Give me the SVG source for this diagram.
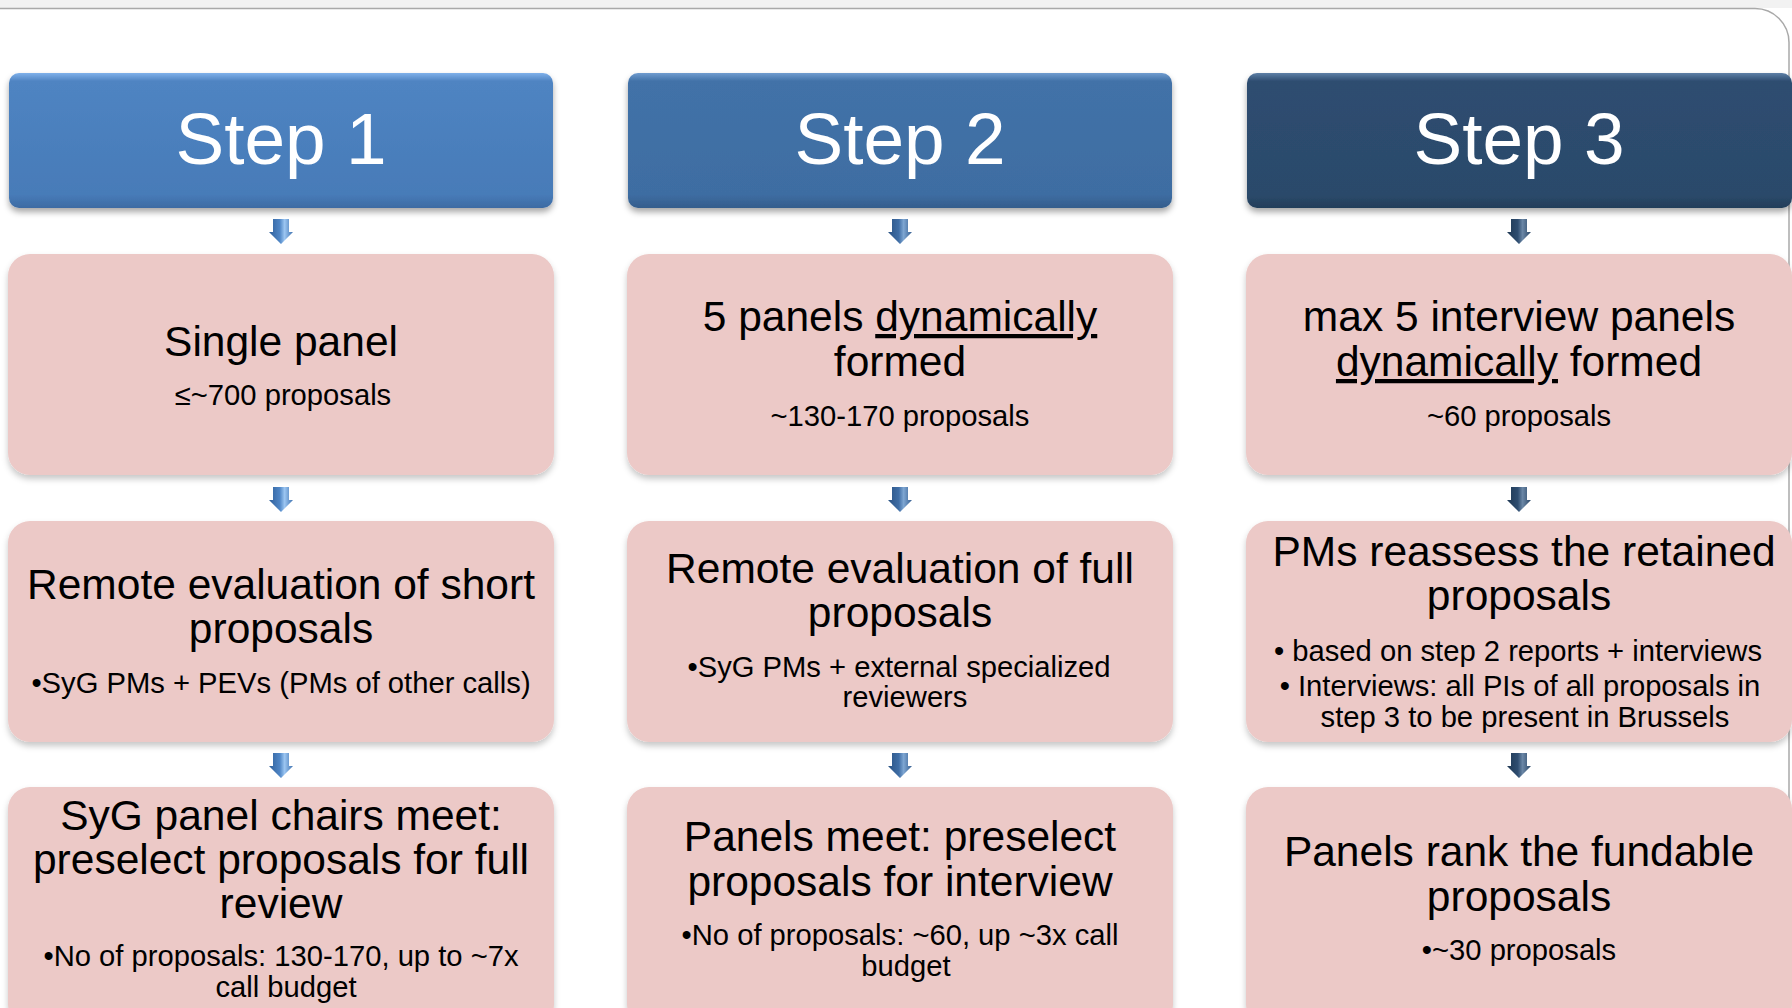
<svg xmlns="http://www.w3.org/2000/svg" width="1792" height="1008" viewBox="0 0 1792 1008">
<defs>
<linearGradient id="g1" x1="0" y1="0" x2="0" y2="1">
<stop offset="0" stop-color="#7fb0ea"/><stop offset="0.06" stop-color="#4f84c2"/><stop offset="0.9" stop-color="#477bb8"/><stop offset="1" stop-color="#3d6ba3"/>
</linearGradient>
<linearGradient id="g2" x1="0" y1="0" x2="0" y2="1">
<stop offset="0" stop-color="#6f9ccf"/><stop offset="0.06" stop-color="#4272a8"/><stop offset="0.9" stop-color="#3e6da2"/><stop offset="1" stop-color="#345d8c"/>
</linearGradient>
<linearGradient id="g3" x1="0" y1="0" x2="0" y2="1">
<stop offset="0" stop-color="#5d7fa6"/><stop offset="0.06" stop-color="#2e4d70"/><stop offset="0.9" stop-color="#2b4a6b"/><stop offset="1" stop-color="#233e5a"/>
</linearGradient>
<linearGradient id="ga1" x1="0" y1="0" x2="1" y2="0">
<stop offset="0" stop-color="#2f5f9a"/><stop offset="0.45" stop-color="#4f86c6"/><stop offset="0.65" stop-color="#9cc6f2"/><stop offset="1" stop-color="#3f72b0"/>
</linearGradient>
<linearGradient id="ga2" x1="0" y1="0" x2="1" y2="0">
<stop offset="0" stop-color="#2a5283"/><stop offset="0.45" stop-color="#3f6ea6"/><stop offset="0.65" stop-color="#7ea6d2"/><stop offset="1" stop-color="#365f91"/>
</linearGradient>
<linearGradient id="ga3" x1="0" y1="0" x2="1" y2="0">
<stop offset="0" stop-color="#1f3853"/><stop offset="0.45" stop-color="#2e4d70"/><stop offset="0.65" stop-color="#6b87a6"/><stop offset="1" stop-color="#2a4666"/>
</linearGradient>
<filter id="sh" x="-5%" y="-10%" width="110%" height="130%">
<feDropShadow dx="0" dy="4" stdDeviation="3" flood-color="#000" flood-opacity="0.35"/>
</filter>
<filter id="shp" x="-5%" y="-10%" width="110%" height="130%">
<feDropShadow dx="0" dy="4" stdDeviation="3" flood-color="#000" flood-opacity="0.22"/>
</filter>
<path id="arw" d="M-8,0 H8 V13 H12 L0,25 L-12,13 H-8 Z"/>
</defs>
<style>
.hdr{filter:url(#sh);}
.pk{fill:#ecc9c7;filter:url(#shp);}
.st,.mn,.sb{font-family:"Liberation Sans",Arial,sans-serif;text-anchor:middle;}
.st{font-size:73px;fill:#fff;}
.mn{font-size:42.5px;fill:#000;}
.sb{font-size:29.2px;fill:#000;}
.u{text-decoration:underline;}
</style>
<rect x="0" y="0" width="1792" height="8" fill="#f2f2f2"/>
<path d="M0,8.5 H1755 A34,34 0 0 1 1789,42.5 V1008" fill="none" stroke="#a9a9a9" stroke-width="1.5"/>

<g id="step1">
<rect class="hdr" x="9" y="73" width="544" height="135" rx="10" fill="url(#g1)"/>
<text class="st" x="281" y="164">Step 1</text>
</g>
<g id="step2">
<rect class="hdr" x="628" y="73" width="544" height="135" rx="10" fill="url(#g2)"/>
<text class="st" x="900" y="164">Step 2</text>
</g>
<g id="step3">
<rect class="hdr" x="1247" y="73" width="545" height="135" rx="10" fill="url(#g3)"/>
<text class="st" x="1519" y="164">Step 3</text>
</g>

<g id="c1r1">
<rect class="pk" x="8" y="254" width="546" height="221" rx="22"/>
<text class="mn" x="281" y="356">Single panel</text>
<text class="sb" x="283" y="405">≤~700 proposals</text>
</g>
<g id="c2r1">
<rect class="pk" x="627" y="254" width="546" height="221" rx="22"/>
<text class="mn" x="900" y="331">5 panels <tspan class="u">dynamically</tspan></text>
<text class="mn" x="900" y="376">formed</text>
<text class="sb" x="900" y="426">~130-170 proposals</text>
</g>
<g id="c3r1">
<rect class="pk" x="1246" y="254" width="546" height="221" rx="22"/>
<text class="mn" x="1519" y="331">max 5 interview panels</text>
<text class="mn" x="1519" y="376"><tspan class="u">dynamically</tspan> formed</text>
<text class="sb" x="1519" y="426">~60 proposals</text>
</g>

<g id="c1r2">
<rect class="pk" x="8" y="521" width="546" height="221" rx="22"/>
<text class="mn" x="281" y="599">Remote evaluation of short</text>
<text class="mn" x="281" y="643">proposals</text>
<text class="sb" x="281" y="693">•SyG PMs + PEVs (PMs of other calls)</text>
</g>
<g id="c2r2">
<rect class="pk" x="627" y="521" width="546" height="221" rx="22"/>
<text class="mn" x="900" y="583">Remote evaluation of full</text>
<text class="mn" x="900" y="627">proposals</text>
<text class="sb" x="899" y="677">•SyG PMs + external specialized</text>
<text class="sb" x="905" y="707">reviewers</text>
</g>
<g id="c3r2">
<rect class="pk" x="1246" y="521" width="546" height="221" rx="22"/>
<text class="mn" x="1524" y="566">PMs reassess the retained</text>
<text class="mn" x="1519" y="610">proposals</text>
<text class="sb" x="1518" y="661">• based on step 2 reports + interviews</text>
<text class="sb" x="1520" y="696">• Interviews: all PIs of all proposals in</text>
<text class="sb" x="1525" y="727">step 3 to be present in Brussels</text>
</g>

<g id="c1r3">
<rect class="pk" x="8" y="787" width="546" height="240" rx="22"/>
<text class="mn" x="281" y="830">SyG panel chairs meet:</text>
<text class="mn" x="281" y="874">preselect proposals for full</text>
<text class="mn" x="281" y="918">review</text>
<text class="sb" x="281" y="966">•No of proposals: 130-170, up to ~7x</text>
<text class="sb" x="286" y="997">call budget</text>
</g>
<g id="c2r3">
<rect class="pk" x="627" y="787" width="546" height="240" rx="22"/>
<text class="mn" x="900" y="851">Panels meet: preselect</text>
<text class="mn" x="900" y="896">proposals for interview</text>
<text class="sb" x="900" y="945">•No of proposals: ~60, up ~3x call</text>
<text class="sb" x="906" y="976">budget</text>
</g>
<g id="c3r3">
<rect class="pk" x="1246" y="787" width="546" height="240" rx="22"/>
<text class="mn" x="1519" y="866">Panels rank the fundable</text>
<text class="mn" x="1519" y="911">proposals</text>
<text class="sb" x="1519" y="960">•~30 proposals</text>
</g>

<g id="connectors">
<use href="#arw" x="281" y="219" fill="url(#ga1)"/>
<use href="#arw" x="281" y="487" fill="url(#ga1)"/>
<use href="#arw" x="281" y="753" fill="url(#ga1)"/>
<use href="#arw" x="900" y="219" fill="url(#ga2)"/>
<use href="#arw" x="900" y="487" fill="url(#ga2)"/>
<use href="#arw" x="900" y="753" fill="url(#ga2)"/>
<use href="#arw" x="1519" y="219" fill="url(#ga3)"/>
<use href="#arw" x="1519" y="487" fill="url(#ga3)"/>
<use href="#arw" x="1519" y="753" fill="url(#ga3)"/>
</g>
</svg>
